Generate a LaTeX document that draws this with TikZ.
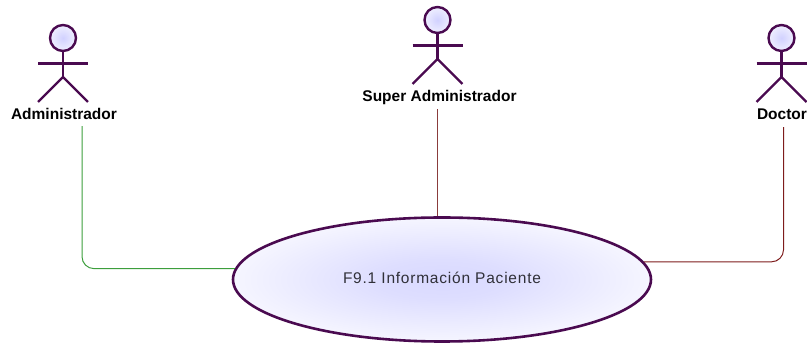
\documentclass[tikz,border=0pt]{standalone}
\usepackage{fontspec}
\setmainfont{Liberation Sans}
\usetikzlibrary{calc,shapes.geometric}
\definecolor{umlline}{HTML}{4A0A50}
\definecolor{linkgreen}{HTML}{3C9E3C}
\definecolor{linkred}{HTML}{7E1C1C}
\definecolor{linkrose}{HTML}{8A3C3C}
\definecolor{txtdark}{HTML}{303038}
\pgfdeclareradialshading{ucshade}{\pgfpointorigin}{rgb(0bp)=(0.85,0.85,1); rgb(8bp)=(0.87,0.87,1); rgb(32bp)=(1,1,1); rgb(100bp)=(1,1,1)}
\pgfdeclareradialshading{headshade}{\pgfpointorigin}{rgb(0bp)=(0.82,0.82,1); rgb(32bp)=(0.97,0.97,1); rgb(100bp)=(0.97,0.97,1)}
\tikzset{
  x=1pt,y=-1pt,
  actorline/.style={draw=umlline,line width=2.4pt},
  actorlabel/.style={inner sep=0pt,text height=11pt,text depth=0pt,font=\bfseries\fontsize{15.5}{17}\selectfont,text=black},
  usecase/.style={ellipse,draw=umlline,line width=2.6pt,shading=ucshade,minimum width=418pt,minimum height=124pt,inner sep=0pt,text height=11pt,text depth=2pt,font=\fontsize{15.5}{17}\selectfont\addfontfeature{LetterSpace=5},text=txtdark},
  link/.style={line width=1pt,rounded corners=12pt},
  pics/actor/.style={code={
    \node[circle,actorline,shading=headshade,minimum size=26pt,inner sep=0pt] (-head) at (0,0) {};
    \draw[actorline] (-head.south) -- (0,39);
    \draw[actorline] (-25,25.5) -- (25,25.5);
    \draw[actorline] (-25,64) -- (0,39) -- (25,64);
  }}
}
\begin{document}
\begin{tikzpicture}
\useasboundingbox (0,0) rectangle (807,344);
\pic (aa) at (63,38) {actor};
\pic (ab) at (437.5,20) {actor};
\pic (ac) at (781.5,38) {actor};
\node[actorlabel] (admin) at (64,114.5) {Administrador};
\node[actorlabel] (super) at (439.5,96.2) {Super Administrador};
\node[actorlabel] (doctor) at (782,114.5) {Doctor};
\node[usecase] (uc) at (442,279.5) {F9.1 Información Paciente};
\coordinate (adminout) at ([xshift=18pt,yshift=-6pt]admin.south);
\coordinate (superout) at ([xshift=-2pt,yshift=-7.3pt]super.south);
\coordinate (doctorout) at ([xshift=1.5pt,yshift=-7pt]doctor.south);
\draw[link,linkgreen] (adminout) |- (uc.177.5);
\draw[link,linkrose] (superout) -- (uc.north -| superout);
\draw[link,linkred] (doctorout) |- (uc.5.1);
\end{tikzpicture}
\end{document}
